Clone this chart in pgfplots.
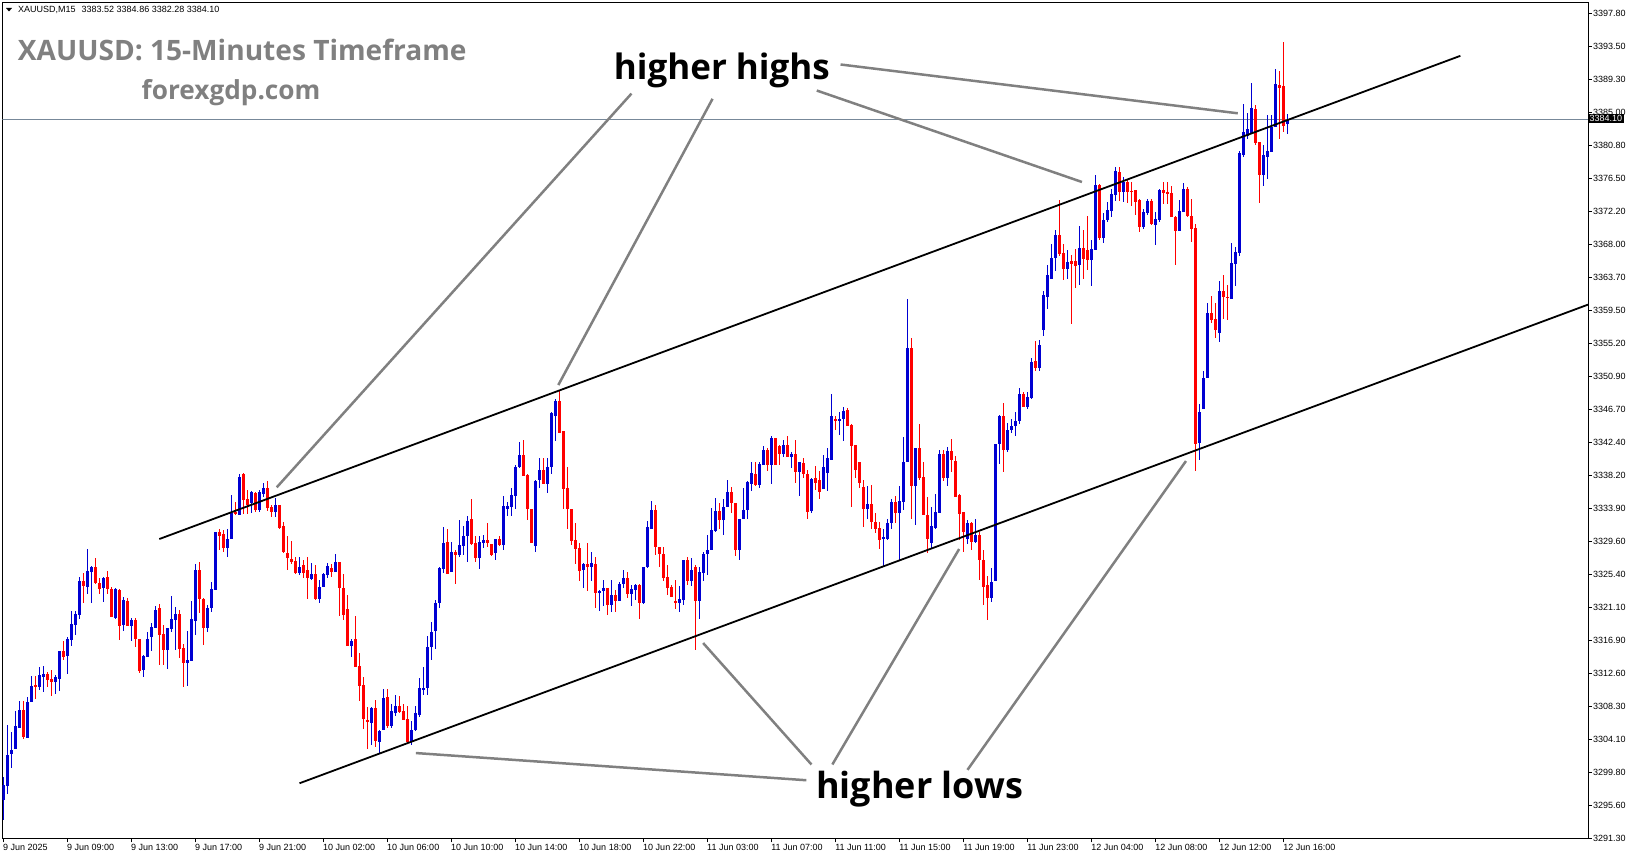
\documentclass[border=0pt]{standalone}
\usepackage{fontspec}
\setmainfont{Liberation Sans}
\newfontfamily\osans{Open Sans}
\usepackage{pgfplots}
\pgfplotsset{compat=1.18}
\usepackage{pgfplotstable}
\definecolor{cblue}{RGB}{0,0,210}
\definecolor{cred}{RGB}{255,0,0}
\definecolor{annot}{RGB}{128,128,128}
\definecolor{hline}{RGB}{119,136,153}
\definecolor{titlegray}{RGB}{128,128,128}

\pgfplotstableread{
i o h l c
0 3296.3 3299.3 3293.7 3298.2
1 3298.1 3305.9 3297.0 3302.1
2 3302.2 3305.1 3300.4 3302.7
3 3302.9 3307.7 3302.9 3305.8
4 3305.6 3309.1 3305.5 3307.9
6 3304.3 3309.6 3304.3 3308.9
7 3308.9 3312.3 3308.9 3311.0
9 3310.9 3313.5 3310.5 3312.4
10 3312.2 3313.6 3310.2 3312.5
13 3311.5 3312.4 3309.9 3312.1
14 3311.9 3315.5 3310.3 3315.5
16 3314.9 3317.3 3312.5 3317.0
17 3316.9 3320.7 3316.2 3319.0
18 3318.9 3320.7 3317.6 3320.3
19 3320.2 3325.1 3319.7 3324.6
21 3323.8 3328.7 3322.9 3325.8
22 3325.7 3326.5 3321.7 3326.3
25 3323.6 3325.1 3321.9 3324.9
28 3319.8 3323.6 3319.6 3323.5
30 3318.8 3322.5 3318.1 3322.1
32 3318.8 3319.8 3316.8 3319.5
35 3313.0 3315.0 3312.2 3314.9
36 3314.8 3318.0 3314.8 3317.0
37 3317.3 3319.1 3315.5 3318.6
38 3318.5 3321.3 3318.5 3320.8
41 3315.6 3318.5 3313.2 3318.5
42 3318.4 3322.6 3318.0 3319.6
43 3319.5 3321.2 3315.6 3320.3
46 3314.0 3318.1 3311.0 3314.3
47 3314.2 3322.0 3314.2 3319.6
48 3319.4 3326.7 3317.6 3326.0
51 3318.5 3321.5 3318.0 3321.1
52 3321.0 3324.4 3320.6 3323.5
53 3323.4 3330.9 3323.4 3330.9
56 3328.8 3331.2 3327.7 3330.0
57 3330.0 3335.6 3330.0 3333.3
59 3333.0 3338.3 3333.0 3338.0
62 3334.6 3336.2 3333.3 3336.1
64 3333.7 3336.3 3333.5 3336.0
65 3335.8 3337.2 3335.4 3336.5
68 3333.4 3335.3 3332.8 3334.3
74 3325.6 3327.6 3325.3 3326.4
77 3324.8 3326.9 3324.7 3325.4
79 3322.2 3324.7 3321.7 3323.8
80 3323.8 3325.6 3323.8 3325.5
81 3325.3 3326.9 3324.9 3326.5
83 3325.7 3328.0 3325.7 3327.0
87 3316.2 3317.1 3314.7 3316.8
92 3306.2 3308.3 3303.4 3308.2
94 3303.8 3305.3 3302.3 3305.2
95 3305.3 3310.6 3305.3 3309.5
97 3305.8 3308.7 3305.6 3307.7
98 3307.5 3309.8 3307.1 3308.4
102 3303.8 3306.5 3303.4 3305.3
103 3305.3 3308.4 3305.2 3307.5
104 3307.2 3312.0 3307.0 3310.7
105 3310.6 3313.5 3309.8 3310.7
106 3310.7 3317.5 3309.8 3316.0
107 3316.0 3319.3 3314.4 3318.0
108 3318.1 3322.1 3315.7 3321.7
109 3321.7 3326.4 3321.0 3326.2
110 3326.1 3331.5 3325.6 3329.5
112 3325.7 3329.6 3325.7 3328.3
114 3327.9 3332.4 3327.6 3329.2
115 3329.0 3331.6 3327.9 3330.4
116 3330.4 3332.9 3327.0 3332.3
119 3327.5 3330.3 3326.1 3329.6
120 3329.4 3330.5 3328.8 3329.8
123 3328.1 3330.0 3327.3 3329.9
125 3329.2 3335.5 3328.5 3334.2
126 3333.9 3334.8 3332.9 3334.2
127 3334.1 3336.6 3332.9 3335.6
128 3335.5 3339.5 3333.9 3339.3
129 3339.2 3342.5 3339.2 3340.8
133 3329.1 3337.6 3328.3 3337.4
134 3337.6 3340.4 3336.5 3338.9
136 3337.1 3340.4 3335.9 3339.3
137 3339.2 3346.4 3338.3 3346.2
138 3345.8 3348.0 3342.6 3347.8
145 3326.0 3326.9 3323.7 3326.7
147 3326.3 3328.3 3324.6 3326.9
149 3323.0 3323.4 3320.7 3323.2
150 3323.2 3324.7 3321.3 3323.7
152 3321.4 3324.7 3320.5 3322.7
154 3322.0 3324.4 3322.0 3324.1
155 3324.1 3326.0 3323.6 3325.0
157 3322.9 3324.0 3321.3 3323.5
158 3323.4 3324.2 3322.1 3324.0
160 3321.7 3326.4 3321.6 3326.4
161 3326.3 3332.3 3326.2 3331.5
162 3331.3 3334.9 3331.2 3333.7
169 3321.7 3323.9 3320.5 3322.2
170 3322.1 3327.3 3321.4 3327.3
172 3324.6 3327.5 3323.9 3326.0
174 3322.0 3326.4 3319.7 3325.7
175 3325.6 3328.3 3324.6 3328.1
176 3328.0 3330.5 3325.3 3328.6
177 3328.5 3334.0 3328.5 3331.1
178 3331.0 3335.3 3330.9 3333.6
180 3332.4 3335.1 3330.5 3334.1
181 3334.1 3337.6 3334.1 3336.0
184 3328.5 3332.6 3327.3 3332.5
185 3332.5 3336.5 3332.5 3333.7
186 3333.7 3337.4 3332.5 3337.3
187 3337.1 3339.9 3336.1 3338.5
189 3336.9 3339.9 3336.6 3339.6
190 3339.5 3342.0 3339.5 3341.5
192 3339.5 3343.2 3337.1 3343.0
195 3340.9 3342.8 3340.6 3342.1
197 3340.5 3341.2 3339.1 3341.0
199 3338.6 3339.9 3335.5 3339.9
202 3333.6 3337.9 3333.3 3337.7
205 3336.4 3340.8 3336.4 3339.2
206 3338.5 3341.7 3336.2 3340.4
207 3340.2 3348.7 3340.2 3345.9
209 3345.2 3346.3 3343.4 3345.5
210 3345.4 3347.0 3342.6 3346.5
216 3333.9 3336.8 3332.6 3334.5
220 3329.9 3331.3 3326.4 3330.2
221 3330.0 3332.6 3329.9 3332.1
222 3332.0 3335.2 3331.3 3334.8
224 3333.3 3336.8 3327.3 3334.9
225 3334.8 3343.2 3333.7 3339.9
226 3339.9 3360.9 3339.9 3354.6
228 3336.8 3341.7 3331.8 3341.7
232 3329.4 3334.1 3328.8 3331.6
233 3331.4 3335.8 3331.2 3333.5
234 3333.3 3341.4 3333.3 3340.9
236 3337.8 3341.9 3336.8 3341.3
241 3329.9 3332.4 3329.3 3332.0
243 3329.6 3332.6 3329.5 3330.5
247 3322.4 3326.2 3321.9 3324.4
248 3324.5 3342.2 3324.5 3342.2
249 3342.2 3346.0 3339.6 3345.8
251 3341.4 3344.9 3341.2 3344.0
252 3344.0 3345.5 3343.6 3344.5
253 3344.5 3346.4 3343.3 3345.2
254 3345.2 3349.5 3344.8 3348.7
256 3347.0 3349.0 3346.8 3348.3
257 3348.2 3353.4 3348.1 3352.8
259 3352.0 3355.6 3351.7 3355.0
260 3356.9 3362.0 3356.2 3361.5
261 3361.2 3365.3 3359.7 3364.0
262 3363.5 3368.0 3363.5 3366.3
263 3366.2 3369.9 3364.6 3369.2
266 3364.8 3367.3 3363.5 3365.7
269 3365.3 3370.4 3362.7 3367.5
272 3366.0 3368.6 3362.6 3367.4
273 3367.3 3377.0 3367.3 3375.7
275 3368.8 3372.1 3368.2 3371.2
276 3371.1 3373.5 3370.9 3372.4
277 3372.3 3375.1 3371.6 3374.5
278 3374.4 3378.0 3373.6 3377.5
280 3374.8 3376.7 3373.5 3376.1
285 3370.3 3372.6 3370.0 3372.2
286 3372.0 3373.9 3371.8 3373.6
288 3370.5 3372.2 3367.9 3371.3
289 3371.1 3375.1 3370.9 3375.0
294 3369.7 3373.7 3369.7 3372.3
295 3372.2 3375.9 3372.2 3375.2
299 3342.3 3347.4 3340.2 3346.3
300 3346.7 3351.6 3346.7 3350.8
301 3350.7 3360.4 3350.7 3359.1
304 3356.6 3363.3 3355.4 3362.0
307 3361.0 3368.2 3361.0 3365.6
308 3365.5 3367.7 3362.6 3367.0
309 3366.9 3380.0 3366.5 3379.8
310 3379.5 3386.1 3379.3 3382.5
311 3382.0 3385.0 3381.6 3382.9
312 3382.4 3388.8 3382.4 3385.6
315 3376.9 3380.8 3375.6 3379.5
316 3379.3 3384.7 3376.5 3380.0
317 3379.9 3384.7 3379.9 3383.2
318 3383.2 3390.6 3383.2 3388.7
321 3383.52 3384.86 3382.28 3384.10
}\up

\pgfplotstableread{
i o h l c
5 3307.9 3309.1 3304.2 3304.4
8 3311.1 3312.3 3309.3 3311.0
11 3312.5 3312.8 3310.8 3311.8
12 3311.9 3313.0 3309.7 3311.5
15 3315.5 3316.8 3314.3 3314.8
20 3324.6 3325.6 3321.7 3323.9
23 3326.3 3327.5 3324.1 3324.3
24 3324.3 3324.9 3322.9 3323.5
26 3325.1 3325.8 3322.8 3323.5
27 3323.5 3323.8 3319.9 3319.9
29 3323.4 3323.5 3316.9 3318.8
31 3322.0 3322.4 3318.8 3318.8
33 3319.5 3319.8 3316.0 3317.0
34 3317.0 3317.0 3312.7 3312.9
39 3321.1 3321.6 3313.7 3317.6
40 3317.7 3318.9 3313.7 3315.6
44 3320.3 3320.8 3314.6 3315.8
45 3315.9 3316.4 3310.9 3314.0
49 3326.0 3327.0 3320.4 3322.2
50 3322.2 3322.4 3316.3 3318.5
54 3330.9 3331.3 3328.5 3330.4
55 3330.6 3331.1 3328.3 3328.8
58 3333.5 3334.8 3333.1 3333.2
60 3338.4 3338.5 3333.2 3335.0
61 3335.1 3336.3 3333.2 3334.3
63 3335.9 3336.0 3333.4 3333.7
66 3336.5 3337.4 3333.6 3334.0
67 3334.1 3334.3 3332.8 3333.4
69 3334.3 3334.3 3331.3 3331.4
70 3331.6 3332.1 3328.1 3328.3
71 3328.2 3330.3 3326.0 3327.5
72 3327.4 3329.7 3326.7 3327.0
73 3327.1 3327.7 3325.5 3325.6
75 3326.6 3327.3 3325.0 3325.6
76 3326.0 3327.6 3322.2 3324.9
78 3325.4 3326.6 3322.1 3322.2
82 3326.2 3326.8 3325.1 3325.7
84 3327.0 3327.0 3320.0 3323.7
85 3323.7 3325.5 3319.5 3320.1
86 3320.9 3322.8 3316.1 3316.2
88 3317.1 3320.0 3313.5 3313.5
89 3313.6 3315.2 3309.0 3311.0
90 3311.1 3312.2 3305.4 3306.7
91 3306.6 3308.3 3302.9 3306.4
93 3308.2 3309.2 3303.1 3303.9
96 3309.6 3310.6 3305.6 3305.8
99 3308.4 3309.7 3307.5 3307.7
100 3307.8 3308.7 3306.6 3306.6
101 3306.7 3308.4 3303.5 3303.8
111 3329.6 3331.3 3325.4 3325.5
113 3328.3 3328.5 3324.2 3327.9
117 3332.5 3335.1 3329.2 3329.3
118 3329.5 3330.3 3327.0 3327.5
121 3329.9 3332.0 3329.0 3329.4
122 3329.3 3329.3 3327.8 3327.9
124 3330.0 3330.4 3329.0 3329.2
130 3340.8 3342.7 3338.1 3338.1
131 3338.2 3338.3 3332.4 3333.9
132 3333.9 3333.9 3329.4 3329.4
135 3338.9 3340.4 3337.1 3337.1
139 3347.8 3349.2 3343.7 3343.7
140 3343.9 3343.9 3333.9 3336.4
141 3336.5 3339.3 3331.3 3333.8
142 3333.8 3333.8 3329.2 3329.7
143 3329.8 3332.0 3326.7 3328.7
144 3328.8 3329.4 3324.6 3325.8
146 3326.7 3329.4 3323.3 3326.3
148 3326.8 3327.7 3321.1 3323.0
151 3323.7 3323.7 3320.1 3321.4
153 3322.7 3323.4 3320.6 3322.0
156 3325.0 3325.7 3322.4 3322.9
159 3324.0 3324.2 3319.6 3321.7
163 3333.7 3334.3 3327.9 3328.9
164 3329.0 3329.0 3326.3 3328.1
165 3328.1 3329.0 3324.5 3325.0
166 3325.0 3326.6 3322.7 3323.6
167 3323.8 3324.0 3322.5 3322.5
168 3321.9 3324.7 3320.9 3321.7
171 3327.3 3327.7 3324.0 3324.6
173 3326.3 3326.6 3315.6 3322.0
179 3333.6 3334.6 3331.3 3332.4
182 3336.0 3336.7 3333.3 3334.6
183 3334.6 3334.6 3327.8 3328.5
188 3338.4 3339.9 3336.8 3336.9
191 3341.5 3341.7 3338.8 3339.5
193 3343.0 3343.0 3339.5 3339.5
194 3342.0 3342.1 3339.5 3340.9
196 3342.1 3343.3 3340.5 3340.5
198 3340.9 3342.8 3337.2 3338.6
200 3339.8 3340.4 3337.9 3338.4
201 3338.4 3338.9 3332.6 3333.5
203 3337.8 3339.4 3336.3 3337.2
204 3337.6 3338.8 3335.2 3336.0
208 3345.5 3345.9 3344.1 3345.2
211 3346.6 3346.9 3344.5 3344.5
212 3344.7 3344.8 3334.1 3342.0
213 3342.1 3342.1 3337.9 3338.9
214 3339.9 3339.9 3336.6 3337.2
215 3336.7 3337.6 3331.5 3333.9
217 3334.5 3336.9 3331.3 3332.1
218 3332.1 3333.3 3330.7 3331.2
219 3331.4 3332.2 3328.7 3329.9
223 3334.8 3335.5 3332.0 3333.3
227 3354.6 3355.9 3332.6 3336.8
229 3341.7 3344.8 3337.6 3337.8
230 3338.0 3339.9 3333.1 3333.1
231 3333.1 3335.4 3328.2 3330.0
235 3340.9 3341.4 3337.4 3337.8
237 3341.3 3342.9 3338.6 3340.1
238 3340.1 3340.7 3335.4 3335.4
239 3335.6 3335.8 3329.8 3333.2
240 3333.5 3333.5 3328.3 3330.9
242 3332.0 3332.2 3328.6 3329.6
244 3330.5 3330.9 3324.7 3327.3
245 3327.3 3328.5 3321.4 3323.8
246 3324.0 3325.2 3319.5 3322.4
250 3345.8 3347.5 3338.6 3341.4
255 3348.7 3349.0 3347.0 3347.0
258 3352.9 3355.5 3351.6 3352.1
264 3369.2 3373.7 3366.5 3366.8
265 3366.9 3368.1 3363.4 3364.8
267 3365.8 3366.6 3357.7 3365.5
268 3365.8 3367.4 3362.4 3365.2
270 3367.5 3369.9 3363.6 3366.1
271 3367.3 3371.6 3364.7 3366.0
274 3375.7 3375.8 3368.5 3368.8
279 3377.3 3378.0 3373.6 3374.8
281 3376.1 3376.3 3373.3 3374.8
282 3374.9 3376.0 3373.0 3374.8
283 3375.0 3375.0 3371.8 3373.5
284 3373.8 3373.9 3369.6 3370.3
287 3373.6 3373.9 3370.5 3370.6
290 3375.0 3376.1 3373.2 3374.6
291 3374.7 3376.0 3373.2 3374.6
292 3374.6 3375.5 3371.5 3371.5
293 3371.6 3371.7 3365.3 3369.7
296 3375.2 3375.4 3371.6 3371.7
297 3371.7 3373.9 3368.3 3370.0
298 3370.1 3370.7 3338.8 3342.3
302 3359.1 3361.3 3357.8 3358.3
303 3358.4 3360.4 3355.9 3356.9
305 3362.0 3364.0 3358.4 3361.2
306 3361.2 3362.7 3358.2 3361.1
313 3385.5 3386.0 3380.8 3381.1
314 3381.2 3381.2 3373.3 3376.9
319 3388.6 3390.4 3381.6 3388.2
320 3388.4 3394.1 3382.5 3383.3
}\dn

\begin{document}
\begin{tikzpicture}
\useasboundingbox (0,0) rectangle (1631pt,861pt);
\begin{axis}[
  at={(2.3pt,22.5pt)}, anchor=south west,
  scale only axis, width=1585.7pt, height=835.5pt,
  xmin=-0.3, xmax=396.1, ymin=3291.3, ymax=3399.16,
  axis line style={black, line width=1pt},
  tick align=outside, major tick length=4pt,
  tick style={black, line width=0.8pt},
  xtick pos=left, ytick pos=right, yticklabel pos=right,
  xtick={0,16,...,320},
  xticklabels={9 Jun 2025,9 Jun 09:00,9 Jun 13:00,9 Jun 17:00,9 Jun 21:00,10 Jun 02:00,10 Jun 06:00,10 Jun 10:00,10 Jun 14:00,10 Jun 18:00,10 Jun 22:00,11 Jun 03:00,11 Jun 07:00,11 Jun 11:00,11 Jun 15:00,11 Jun 19:00,11 Jun 23:00,12 Jun 04:00,12 Jun 08:00,12 Jun 12:00,12 Jun 16:00},
  ytick={3291.3,3295.6,3299.8,3304.1,3308.3,3312.6,3316.9,3321.1,3325.4,3329.6,3333.9,3338.2,3342.4,3346.7,3350.9,3355.2,3359.5,3363.7,3368.0,3372.2,3376.5,3380.8,3385.0,3389.3,3393.5,3397.8},
  yticklabels={3291.30,3295.60,3299.80,3304.10,3308.30,3312.60,3316.90,3321.10,3325.40,3329.60,3333.90,3338.20,3342.40,3346.70,3350.90,3355.20,3359.50,3363.70,3368.00,3372.20,3376.50,3380.80,3385.00,3389.30,3393.50,3397.80},
  xticklabel style={anchor=north west, inner sep=0pt, xshift=-0.5pt, yshift=-2pt, font=\fontsize{9}{10}\selectfont},
  yticklabel style={anchor=west, inner sep=0pt, xshift=1pt, font=\fontsize{9}{10}\selectfont},
  clip=true,
]
% horizontal price line
\addplot[hline, line width=1pt, forget plot] coordinates {(-0.3,3384.1) (396.1,3384.1)};
% wicks
\addplot[draw=none, mark=none, forget plot, error bars/.cd, y dir=both, y explicit, error mark=none,
  error bar style={draw=cblue, line width=1pt}]
  table[x=i, y expr={(\thisrow{h}+\thisrow{l})/2}, y error expr={(\thisrow{h}-\thisrow{l})/2}] {\up};
\addplot[draw=none, mark=none, forget plot, error bars/.cd, y dir=both, y explicit, error mark=none,
  error bar style={draw=cred, line width=1pt}]
  table[x=i, y expr={(\thisrow{h}+\thisrow{l})/2}, y error expr={(\thisrow{h}-\thisrow{l})/2}] {\dn};
% bodies
\addplot[draw=none, mark=none, forget plot, error bars/.cd, y dir=both, y explicit, error mark=none,
  error bar style={draw=cblue, line width=3pt}]
  table[x=i, y expr={(\thisrow{o}+\thisrow{c})/2}, y error expr={max(abs(\thisrow{c}-\thisrow{o})/2,0.065)}] {\up};
\addplot[draw=none, mark=none, forget plot, error bars/.cd, y dir=both, y explicit, error mark=none,
  error bar style={draw=cred, line width=3pt}]
  table[x=i, y expr={(\thisrow{o}+\thisrow{c})/2}, y error expr={max(abs(\thisrow{c}-\thisrow{o})/2,0.065)}] {\dn};
% channel lines
\addplot[black, line width=1.8pt, forget plot] coordinates {(38.95,3329.96) (364.2,3392.34)};
\addplot[black, line width=1.8pt, forget plot] coordinates {(74.0,3298.43) (396.1,3360.22)};
% annotation pointers
\addplot[annot, line width=2.5pt, forget plot] coordinates {(156.98,3387.46) (68.3,3336.63)};
\addplot[annot, line width=2.5pt, forget plot] coordinates {(177.25,3386.79) (138.7,3349.84)};
\addplot[annot, line width=2.5pt, forget plot] coordinates {(203.3,3387.86) (269.6,3376.05)};
\addplot[annot, line width=2.5pt, forget plot] coordinates {(209.25,3391.22) (308.55,3384.92)};
\addplot[annot, line width=2.5pt, forget plot] coordinates {(200.7,3298.82) (103.1,3302.33)};
\addplot[annot, line width=2.5pt, forget plot] coordinates {(201.98,3300.85) (174.9,3316.53)};
\addplot[annot, line width=2.5pt, forget plot] coordinates {(207.2,3300.85) (238.9,3328.67)};
\addplot[annot, line width=2.5pt, forget plot] coordinates {(240.98,3300.16) (295.6,3340.03)};
\end{axis}
% current price box
\node[anchor=west, fill=black, text=white, inner xsep=1.5pt, inner ysep=1.5pt, font=\fontsize{9}{10}\selectfont] at (1588pt,861pt-118.2pt) {3384.10};
% header
\fill[black] (6pt,853pt) -- (12pt,853pt) -- (9pt,849.5pt) -- cycle;
\node[anchor=base west, inner sep=0pt, font=\fontsize{9}{10}\selectfont] at (18pt,848pt) {XAUUSD,M15\hspace{6pt}3383.52 3384.86 3382.28 3384.10};
% titles
\node[anchor=base west, inner sep=0pt, text=titlegray, font=\osans\bfseries\fontsize{28.1}{30}\selectfont] at (17.7pt,800pt) {XAUUSD: 15-Minutes Timeframe};
\node[anchor=base west, inner sep=0pt, text=titlegray, font=\osans\bfseries\fontsize{26.2}{30}\selectfont] at (141.5pt,761pt) {forexgdp.com};
\node[anchor=base west, inner sep=0pt, font=\osans\bfseries\fontsize{35}{38}\selectfont] at (613.7pt,781pt) {higher highs};
\node[anchor=base west, inner sep=0pt, font=\osans\bfseries\fontsize{36}{38}\selectfont] at (816pt,62pt) {higher lows};
\end{tikzpicture}
\end{document}
